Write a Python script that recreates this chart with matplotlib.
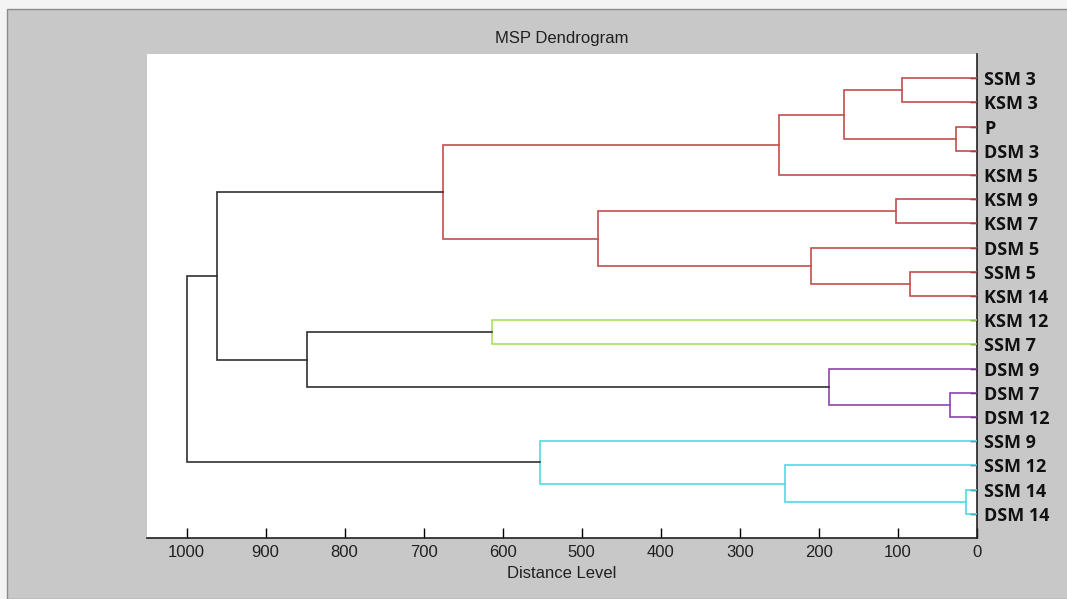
"""
MSP Dendrogram - hierarchical clustering of samples drawn from a fixed linkage table.
"""

import matplotlib
matplotlib.use('Agg')
import matplotlib.pyplot as plt
from matplotlib.patches import Rectangle

# Leaf labels, top to bottom
leaf_labels = ['SSM 3', 'KSM 3', 'P', 'DSM 3', 'KSM 5', 'KSM 9', 'KSM 7',
               'DSM 5', 'SSM 5', 'KSM 14', 'KSM 12', 'SSM 7', 'DSM 9',
               'DSM 7', 'DSM 12', 'SSM 9', 'SSM 12', 'SSM 14', 'DSM 14']

# Linkage: new cluster n_leaves + k joins merge_left[k] and merge_right[k]
merge_left = [17, 2, 13, 8, 0, 5, 23, 12, 7, 16, 25, 24, 15, 10, 29, 32, 33, 35]
merge_right = [18, 3, 14, 9, 1, 6, 20, 21, 22, 19, 4, 27, 28, 11, 30, 26, 34, 31]
merge_height = [14, 26, 34, 85, 95, 102, 168, 187, 210, 243, 251, 480,
                553, 613, 676, 847, 962, 1000]
merge_group = ['cyan', 'red', 'purple', 'red', 'red', 'red', 'red', 'purple',
               'red', 'cyan', 'red', 'red', 'cyan', 'green', 'red', 'none',
               'none', 'none']

x_ticks = [1000, 900, 800, 700, 600, 500, 400, 300, 200, 100, 0]

group_colors = {
    'red': '#c0504d',
    'green': '#a6e05a',
    'purple': '#8a44b0',
    'cyan': '#4fdbe0',
    'none': '#303030',
}

fig = plt.figure(figsize=(10.67, 5.99), dpi=100, facecolor='#f4f4f4')
# grey window panel behind the axes
fig.patches.append(Rectangle((7 / 1067, 0), 1.0, 1 - 9 / 599,
                             transform=fig.transFigure, facecolor='#c8c8c8',
                             edgecolor='#8c8c8c', linewidth=1.0, zorder=-10))

ax = fig.add_axes([147 / 1067, 61 / 599, 830 / 1067, 484 / 599])
ax.set_facecolor('white')

n_leaves = len(leaf_labels)
ypos = {i: i + 1 for i in range(n_leaves)}
xpos = {i: 0.0 for i in range(n_leaves)}

for k, (a, b) in enumerate(zip(merge_left, merge_right)):
    h = merge_height[k]
    c = group_colors[merge_group[k]]
    ya, yb = ypos[a], ypos[b]
    ax.plot([xpos[a], h, h, xpos[b]], [ya, ya, yb, yb], color=c,
            linewidth=1.2, zorder=3, solid_joinstyle='miter')
    node = n_leaves + k
    ypos[node] = (ya + yb) / 2
    xpos[node] = h

ax.set_xlim(1050, 0)
ax.set_ylim(n_leaves + 1, 0)

ax.set_xticks(x_ticks)
ax.set_xticklabels([str(t) for t in x_ticks], fontsize=12,
                   family='Liberation Sans', color='#202020')
ax.tick_params(axis='x', direction='in', length=7, width=1, pad=5)

ax.yaxis.tick_right()
ax.set_yticks(range(1, n_leaves + 1))
ax.set_yticklabels(leaf_labels, fontsize=13, fontweight='bold',
                   family='Open Sans', color='#111111')
ax.tick_params(axis='y', direction='in', length=5, width=1, pad=5)

for side in ['top', 'left']:
    ax.spines[side].set_visible(False)
for side in ['bottom', 'right']:
    ax.spines[side].set_color('#202020')
    ax.spines[side].set_linewidth(1.2)

ax.set_title('MSP Dendrogram', fontsize=12, family='Liberation Sans',
             color='#202020', pad=8)
ax.set_xlabel('Distance Level', fontsize=12, family='Liberation Sans',
              color='#202020', labelpad=4)

fig.savefig('out.png', dpi=100, facecolor=fig.get_facecolor())
